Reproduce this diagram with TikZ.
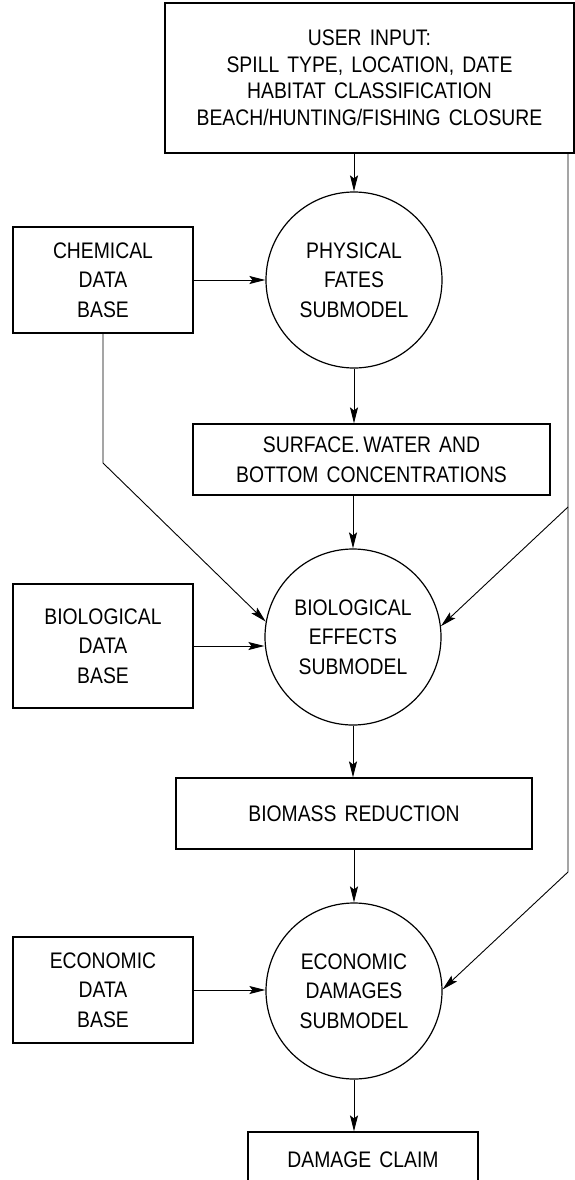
\documentclass[tikz,border=0pt]{standalone}
\usepackage{fontspec}
\setmainfont{Liberation Sans}[FakeStretch=0.86, WordSpace=1.5]
\usetikzlibrary{arrows.meta}
\begin{document}
\begin{tikzpicture}[x=1pt,y=-1pt,
  every node/.style={font=\fontsize{22.5}{29.5}\selectfont, align=center, inner sep=0pt},
  boxnode/.style={draw, line width=1.2pt, rectangle},
  subm/.style={draw, line width=1.2pt, circle, minimum size=176pt},
  arr/.style={line width=1pt, -{Stealth[length=16pt,width=8pt,inset=3pt]}},
  thin arr/.style={line width=0.9pt, -{Stealth[length=16pt,width=8pt,inset=3pt]}},
  plain/.style={line width=0.9pt}]
\useasboundingbox (0,0) rectangle (575,1180);
\fill[white] (0,0) rectangle (575,1180);

% nodes
\node[boxnode, minimum width=409pt, minimum height=150pt, font=\fontsize{22.5}{26.5}\selectfont] (user) at (369.5,78)
  {USER INPUT:\\SPILL TYPE, LOCATION, DATE\\HABITAT CLASSIFICATION\\BEACH/HUNTING/FISHING CLOSURE};
\node[boxnode, minimum width=180pt, minimum height=106pt] (chem) at (103,280) {CHEMICAL\\DATA\\BASE};
\node[subm] (phys) at (354,280) {PHYSICAL\\FATES\\SUBMODEL};
\node[boxnode, minimum width=357pt, minimum height=71pt] (surf) at (371.5,459.5) {SURFACE.\,WATER AND\\BOTTOM CONCENTRATIONS};
\node[subm] (bio) at (353,637) {BIOLOGICAL\\EFFECTS\\SUBMODEL};
\node[boxnode, minimum width=180pt, minimum height=124pt] (biodb) at (103,646) {BIOLOGICAL\\DATA\\BASE};
\node[boxnode, minimum width=356pt, minimum height=71pt] (biomass) at (354,813.5) {BIOMASS REDUCTION};
\node[subm] (econ) at (354,991) {ECONOMIC\\DAMAGES\\SUBMODEL};
\node[boxnode, minimum width=180pt, minimum height=106pt] (econdb) at (103,990) {ECONOMIC\\DATA\\BASE};
\node[boxnode, minimum width=230pt, minimum height=56pt] (damage) at (363,1160) {DAMAGE CLAIM};

% helper coordinates
\coordinate (rx) at (568,0);
\coordinate (R1) at (user.south -| rx);
\coordinate (R2) at (568,507);
\coordinate (R3) at (568,872);
\coordinate (C1) at (103,463);

% main flow
\draw[arr] (phys.north |- user.south) -- (phys.north);
\draw[arr] (chem.east) -- (phys.west);
\draw[arr] (phys.south) -- (phys.south |- surf.north);
\draw[arr] (bio.north |- surf.south) -- (bio.north);
\draw[arr] (biodb.east) -- (biodb.east -| bio.west);
\draw[arr] (bio.south) -- (bio.south |- biomass.north);
\draw[arr] (econ.north |- biomass.south) -- (econ.north);
\draw[arr] (econdb.east) -- (econdb.east -| econ.west);
\draw[arr] (econ.south) -- (econ.south |- damage.north);

% side connectors
\draw[thin arr] (chem.south) -- (C1) -- (bio.170);
\draw[thin arr] (R1) -- (R3) -- (econ.1);
\draw[thin arr] (R2) -- (bio.7);
\end{tikzpicture}
\end{document}
